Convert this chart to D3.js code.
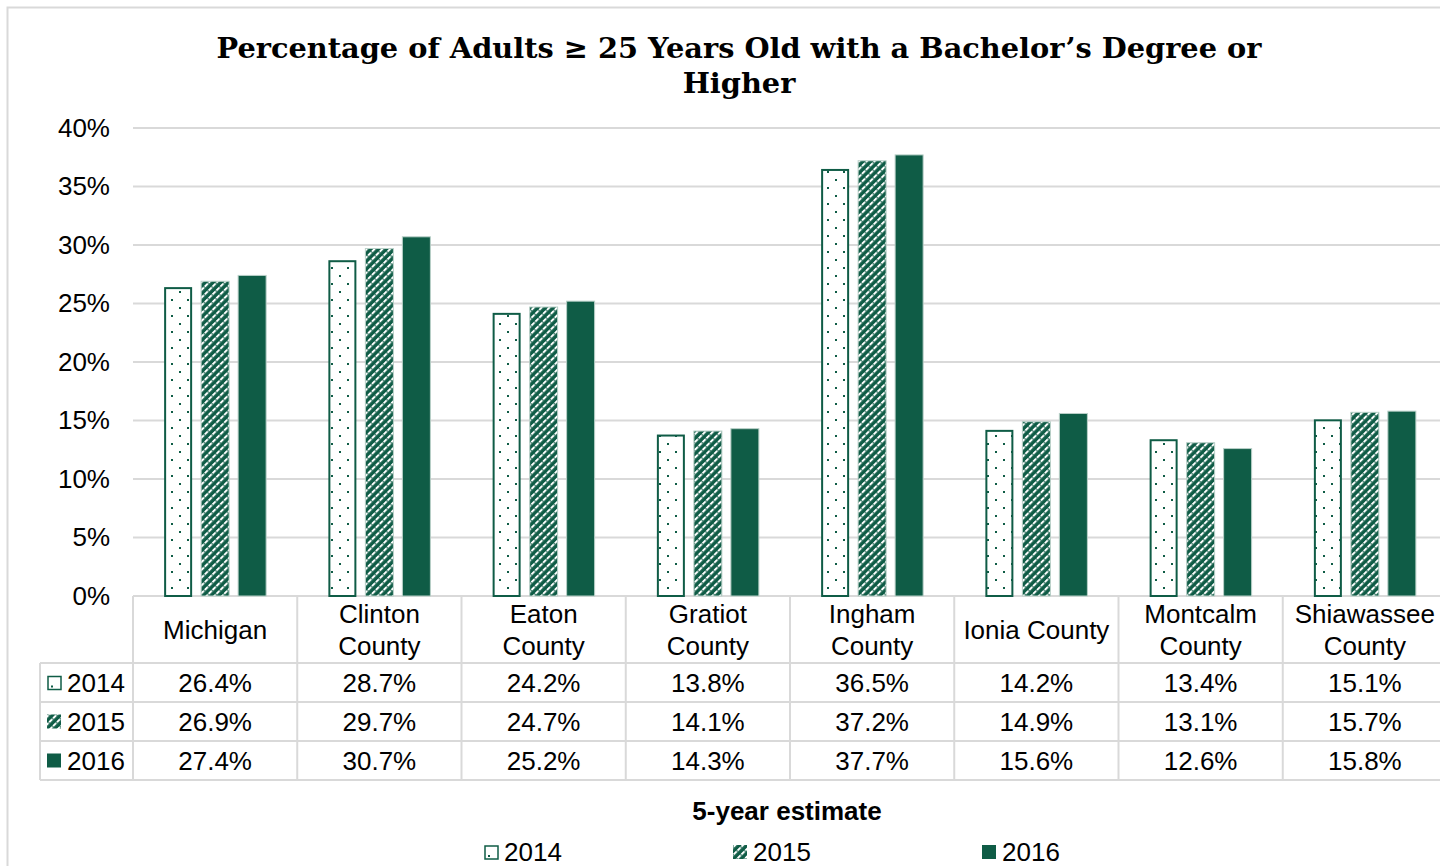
<!DOCTYPE html>
<html><head><meta charset="utf-8">
<script src="https://cdn.jsdelivr.net/npm/d3@7"></script>
<style>html,body{margin:0;padding:0;background:#fff;overflow:hidden}</style>
</head><body><svg id="c" width="1440" height="866"></svg>
<script>
const categories = ["Michigan","Clinton County","Eaton County","Gratiot County","Ingham County","Ionia County","Montcalm County","Shiawassee County"];
const years = ["2014","2015","2016"];
const v2014 = [26.4,28.7,24.2,13.8,36.5,14.2,13.4,15.1];
const v2015 = [26.9,29.7,24.7,14.1,37.2,14.9,13.1,15.7];
const v2016 = [27.4,30.7,25.2,14.3,37.7,15.6,12.6,15.8];
const yTicks = [0,5,10,15,20,25,30,35,40];
const titleLines = ["Percentage of Adults \u2265 25 Years Old with a Bachelor\u2019s Degree or","Higher"];
const axisTitle = "5-year estimate";

const series = {"2014":v2014,"2015":v2015,"2016":v2016};
const green = "#0f5c46", grid = "#d9d9d9";
const svg = d3.select("#c");
const defs = svg.append("defs");
// dotted pattern
const pd = defs.append("pattern").attr("id","dots").attr("patternUnits","userSpaceOnUse").attr("width",16).attr("height",16);
pd.append("rect").attr("width",16).attr("height",16).attr("fill","#fff");
pd.append("rect").attr("x",3).attr("y",3).attr("width",2).attr("height",2).attr("fill",green);
pd.append("rect").attr("x",11).attr("y",11).attr("width",2).attr("height",2).attr("fill",green);
// stripe pattern
const ps = defs.append("pattern").attr("id","stripes").attr("patternUnits","userSpaceOnUse").attr("width",5.5).attr("height",5.5).attr("patternTransform","rotate(45)");
ps.append("rect").attr("width",5.5).attr("height",5.5).attr("fill",green);
ps.append("rect").attr("x",0).attr("y",0).attr("width",2).attr("height",5.5).attr("fill","#fff");
ps.append("rect").attr("x",0).attr("y",3).attr("width",2).attr("height",1).attr("fill",green);
const fills = {"2014":"url(#dots)","2015":"url(#stripes)","2016":green};

// outer border
svg.append("rect").attr("x",7.5).attr("y",7.5).attr("width",1500).attr("height",1000).attr("fill","none").attr("stroke",grid).attr("stroke-width",2);

// title
svg.append("g").selectAll("text").data(titleLines).join("text")
  .attr("x",739).attr("y",(d,i)=>58+i*35).attr("text-anchor","middle")
  .attr("font-family","DejaVu Serif").attr("font-weight","bold").attr("font-size",28.8).attr("fill","#000").text(d=>d);

const x0 = d3.scaleBand().domain(categories).range([133,1447]);
const x1 = d3.scaleBand().domain(years).range([0,102]).paddingInner(9/37);
const y = d3.scaleLinear().domain([0,40]).range([596,128]);
const off = (x0.bandwidth()-102)/2;

// gridlines
svg.append("g").selectAll("line").data(yTicks).join("line")
  .attr("x1",133).attr("x2",1440).attr("y1",d=>y(d)).attr("y2",d=>y(d)).attr("stroke",grid).attr("stroke-width",2);
// y axis labels
const ya = svg.append("g").attr("transform","translate(133,0)").call(d3.axisLeft(y).tickValues(yTicks).tickFormat(d=>d+"%").tickSize(0).tickPadding(23));
ya.select(".domain").remove();
ya.selectAll("text").attr("font-family","Liberation Sans, Arial").attr("font-size",26).attr("fill","#000");

// bars
const g = svg.append("g");
years.forEach(yr=>{
  g.append("g").selectAll("rect").data(categories).join("rect")
   .attr("x",(c)=>x0(c)+off+x1(yr)+(yr==="2014"?1:0))
   .attr("y",(c,i)=>y(series[yr][i])+(yr==="2014"?1:0))
   .attr("width",x1.bandwidth()-(yr==="2014"?2:0))
   .attr("height",(c,i)=>y(0)-y(series[yr][i])-(yr==="2014"?1:0))
   .attr("fill",fills[yr])
   .attr("stroke",yr==="2014"?green:"#b9d0c8").attr("stroke-width",yr==="2014"?2:1);
});

// data table
const rowTop=[663,702,741], rowH=39, headTop=596;
const t = svg.append("g").attr("font-family","Liberation Sans, Arial").attr("font-size",26).attr("fill","#000");
[663,702,741,780].forEach(yy=>t.append("line").attr("x1",40).attr("x2",1440).attr("y1",yy).attr("y2",yy).attr("stroke",grid).attr("stroke-width",2));
t.append("line").attr("x1",40).attr("x2",40).attr("y1",663).attr("y2",780).attr("stroke",grid).attr("stroke-width",2);
t.selectAll(".vl").data(categories).join("line").attr("class","vl")
  .attr("x1",c=>x0(c)).attr("x2",c=>x0(c)).attr("y1",headTop).attr("y2",780).attr("stroke",grid).attr("stroke-width",2);
categories.forEach(c=>{
  const cx = x0(c)+x0.bandwidth()/2;
  const tmp = t.append("text").attr("x",cx).attr("text-anchor","middle").text(c);
  const w = tmp.node().getComputedTextLength();
  tmp.remove();
  let lines = [c];
  if (w>152 && c.includes(" ")) { const k=c.lastIndexOf(" "); lines=[c.slice(0,k),c.slice(k+1)]; }
  const mid = (headTop+663)/2;
  lines.forEach((ln,i)=>{
    t.append("text").attr("x",cx).attr("y",mid+9+(i-(lines.length-1)/2)*32).attr("text-anchor","middle").text(ln);
  });
});
years.forEach((yr,r)=>{
  t.append("g").selectAll("text").data(categories).join("text")
   .attr("x",c=>x0(c)+x0.bandwidth()/2).attr("y",rowTop[r]+rowH/2+9).attr("text-anchor","middle")
   .text((c,i)=>series[yr][i].toFixed(1)+"%");
  const ky = rowTop[r]+rowH/2-7;
  t.append("rect").attr("x",yr==="2014"?48:47).attr("y",yr==="2014"?ky+1:ky).attr("width",yr==="2014"?13:14).attr("height",yr==="2014"?13:14)
    .attr("fill",yr==="2014"?"#fff":fills[yr]).attr("stroke",yr==="2014"?green:"none").attr("stroke-width",1.5);
  if(yr==="2014") t.append("rect").attr("x",51).attr("y",ky+10).attr("width",2).attr("height",2).attr("fill",green);
  t.append("text").attr("x",67).attr("y",rowTop[r]+rowH/2+9).text(yr);
});

svg.append("text").attr("x",787).attr("y",820).attr("text-anchor","middle").attr("font-family","Liberation Sans, Arial")
  .attr("font-weight","bold").attr("font-size",26).text(axisTitle);

const lx = d3.scalePoint().domain(years).range([484,982]);
const lg = svg.append("g").attr("font-family","Liberation Sans, Arial").attr("font-size",26);
years.forEach(yr=>{
  const xx=lx(yr);
  lg.append("rect").attr("x",yr==="2014"?xx+1:xx).attr("y",yr==="2014"?846:845).attr("width",yr==="2014"?13:14).attr("height",yr==="2014"?13:14)
    .attr("fill",yr==="2014"?"#fff":fills[yr]).attr("stroke",yr==="2014"?green:"none").attr("stroke-width",1.5);
  if(yr==="2014") lg.append("rect").attr("x",xx+4).attr("y",855).attr("width",2).attr("height",2).attr("fill",green);
  lg.append("text").attr("x",xx+20).attr("y",861).text(yr);
});
</script></body></html>
